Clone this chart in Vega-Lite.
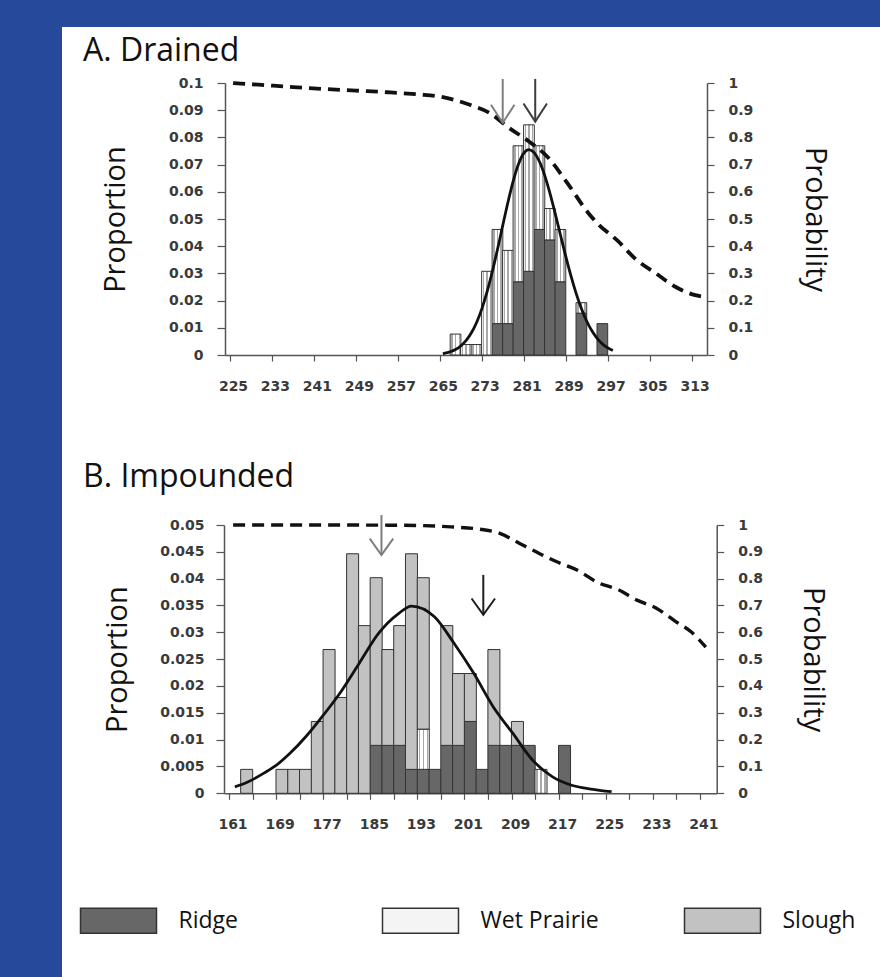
{
  "$schema": "https://vega.github.io/schema/vega-lite/v6.json",
  "background": "#26499b",
  "padding": {"left": 62, "top": 27, "right": 0, "bottom": 0},
  "spacing": 0,
  "config": {
    "view": {"fill": "white", "stroke": null},
    "font": "Open Sans",
    "axis": {
      "labelFont": "DejaVu Sans", "labelFontWeight": "bold", "labelFontSize": 14, "labelColor": "#3a3a3a",
      "tickColor": "#555", "domainColor": "#555", "domainWidth": 1.5, "tickWidth": 1.2,
      "titleFont": "Open Sans", "titleFontWeight": "normal", "titleFontSize": 29, "titleColor": "#111",
      "grid": false, "zindex": 1
    },
    "title": {"font": "Open Sans", "fontWeight": "normal", "fontSize": 32, "color": "#111", "anchor": "start", "frame": "group"}
  },
  "resolve": {"scale": {"x": "independent", "y": "independent", "fill": "independent", "stroke": "independent"}},
  "datasets": {
    "types": [
      {"type": "Ridge", "rank": 1},
      {"type": "Wet Prairie", "rank": 2},
      {"type": "Slough", "rank": 3}
    ],
    "barsA": [
      {"day": 267, "type": "Wet Prairie", "value": 0.00769},
      {"day": 269, "type": "Wet Prairie", "value": 0.00385},
      {"day": 271, "type": "Wet Prairie", "value": 0.00385},
      {"day": 273, "type": "Wet Prairie", "value": 0.03077},
      {"day": 275, "type": "Ridge", "value": 0.01154},
      {"day": 275, "type": "Wet Prairie", "value": 0.03462},
      {"day": 277, "type": "Ridge", "value": 0.01154},
      {"day": 277, "type": "Wet Prairie", "value": 0.02692},
      {"day": 279, "type": "Ridge", "value": 0.02692},
      {"day": 279, "type": "Wet Prairie", "value": 0.05},
      {"day": 281, "type": "Ridge", "value": 0.03077},
      {"day": 281, "type": "Wet Prairie", "value": 0.05385},
      {"day": 283, "type": "Ridge", "value": 0.04615},
      {"day": 283, "type": "Wet Prairie", "value": 0.03077},
      {"day": 285, "type": "Ridge", "value": 0.04231},
      {"day": 285, "type": "Wet Prairie", "value": 0.01154},
      {"day": 287, "type": "Ridge", "value": 0.02692},
      {"day": 287, "type": "Wet Prairie", "value": 0.01923},
      {"day": 291, "type": "Ridge", "value": 0.01538},
      {"day": 291, "type": "Wet Prairie", "value": 0.00385},
      {"day": 295, "type": "Ridge", "value": 0.01154}
    ],
    "curveA": [
      {"day": 264.6, "prop": 0.0004}, {"day": 265, "prop": 0.00066}, {"day": 266, "prop": 0.00118},
      {"day": 267, "prop": 0.00201}, {"day": 268, "prop": 0.00332}, {"day": 269, "prop": 0.00526},
      {"day": 270, "prop": 0.00806}, {"day": 271, "prop": 0.01188}, {"day": 272, "prop": 0.01688},
      {"day": 273, "prop": 0.02313}, {"day": 274, "prop": 0.03051}, {"day": 275, "prop": 0.03879},
      {"day": 276, "prop": 0.04755}, {"day": 277, "prop": 0.05617}, {"day": 278, "prop": 0.06393},
      {"day": 279, "prop": 0.07012}, {"day": 280, "prop": 0.07412}, {"day": 281, "prop": 0.0755},
      {"day": 282, "prop": 0.07438}, {"day": 283, "prop": 0.07114}, {"day": 284, "prop": 0.06605},
      {"day": 285, "prop": 0.05952}, {"day": 286, "prop": 0.05207}, {"day": 287, "prop": 0.04421},
      {"day": 288, "prop": 0.03644}, {"day": 289, "prop": 0.02917}, {"day": 290, "prop": 0.02265},
      {"day": 291, "prop": 0.01708}, {"day": 292, "prop": 0.0125}, {"day": 293, "prop": 0.00888},
      {"day": 294, "prop": 0.00612}, {"day": 295, "prop": 0.0041}, {"day": 296, "prop": 0.00267},
      {"day": 297, "prop": 0.00168}
    ],
    "probA": [
      {"day": 224.6, "prob": 1.0}, {"day": 230, "prob": 0.993}, {"day": 236, "prob": 0.985},
      {"day": 242, "prob": 0.978}, {"day": 248, "prob": 0.972}, {"day": 254, "prob": 0.966},
      {"day": 260, "prob": 0.958}, {"day": 264, "prob": 0.95}, {"day": 267, "prob": 0.937},
      {"day": 270, "prob": 0.918}, {"day": 273.5, "prob": 0.89}, {"day": 277.2, "prob": 0.835},
      {"day": 281, "prob": 0.785}, {"day": 284.7, "prob": 0.725}, {"day": 288.4, "prob": 0.63},
      {"day": 292.2, "prob": 0.525}, {"day": 294, "prob": 0.485}, {"day": 297.75, "prob": 0.423},
      {"day": 301.5, "prob": 0.35}, {"day": 305.2, "prob": 0.3}, {"day": 309, "prob": 0.25},
      {"day": 312.7, "prob": 0.22}, {"day": 314, "prob": 0.215}
    ],
    "arrowsA": [
      {"day": 276, "top": 1.015, "tip": 0.853, "marker": "first"},
      {"day": 282.2, "top": 1.015, "tip": 0.858, "marker": "second"}
    ],
    "barsB": [
      {"day": 163, "type": "Slough", "value": 0.00446},
      {"day": 169, "type": "Slough", "value": 0.00446},
      {"day": 171, "type": "Slough", "value": 0.00446},
      {"day": 173, "type": "Slough", "value": 0.00446},
      {"day": 175, "type": "Slough", "value": 0.01339},
      {"day": 177, "type": "Slough", "value": 0.02679},
      {"day": 179, "type": "Slough", "value": 0.01786},
      {"day": 181, "type": "Slough", "value": 0.04464},
      {"day": 183, "type": "Slough", "value": 0.03125},
      {"day": 185, "type": "Ridge", "value": 0.00893},
      {"day": 185, "type": "Slough", "value": 0.03125},
      {"day": 187, "type": "Ridge", "value": 0.00893},
      {"day": 187, "type": "Slough", "value": 0.01786},
      {"day": 189, "type": "Ridge", "value": 0.00893},
      {"day": 189, "type": "Slough", "value": 0.02232},
      {"day": 191, "type": "Ridge", "value": 0.00446},
      {"day": 191, "type": "Slough", "value": 0.04018},
      {"day": 193, "type": "Ridge", "value": 0.00446},
      {"day": 193, "type": "Wet Prairie", "value": 0.0075},
      {"day": 193, "type": "Slough", "value": 0.02822},
      {"day": 195, "type": "Ridge", "value": 0.00446},
      {"day": 197, "type": "Ridge", "value": 0.00893},
      {"day": 197, "type": "Slough", "value": 0.02232},
      {"day": 199, "type": "Ridge", "value": 0.00893},
      {"day": 199, "type": "Slough", "value": 0.01339},
      {"day": 201, "type": "Ridge", "value": 0.01339},
      {"day": 201, "type": "Slough", "value": 0.00893},
      {"day": 203, "type": "Ridge", "value": 0.00446},
      {"day": 205, "type": "Ridge", "value": 0.00893},
      {"day": 205, "type": "Slough", "value": 0.01786},
      {"day": 207, "type": "Ridge", "value": 0.00893},
      {"day": 209, "type": "Ridge", "value": 0.00893},
      {"day": 209, "type": "Slough", "value": 0.00446},
      {"day": 211, "type": "Ridge", "value": 0.00893},
      {"day": 213, "type": "Wet Prairie", "value": 0.00446},
      {"day": 217, "type": "Ridge", "value": 0.00893}
    ],
    "curveB": [
      {"day": 161, "prop": 0.0012}, {"day": 163, "prop": 0.002}, {"day": 166, "prop": 0.0038},
      {"day": 168, "prop": 0.0052}, {"day": 170.4, "prop": 0.0075}, {"day": 173, "prop": 0.0105},
      {"day": 175.4, "prop": 0.0137}, {"day": 178.8, "prop": 0.0186}, {"day": 182.1, "prop": 0.0242},
      {"day": 185.4, "prop": 0.0298}, {"day": 188.8, "prop": 0.0335}, {"day": 191, "prop": 0.0349},
      {"day": 194.9, "prop": 0.0329}, {"day": 198.2, "prop": 0.028}, {"day": 201.55, "prop": 0.0224},
      {"day": 204.9, "prop": 0.0161}, {"day": 208.2, "prop": 0.0112}, {"day": 211.55, "prop": 0.0062},
      {"day": 214.9, "prop": 0.0031}, {"day": 218.2, "prop": 0.0015}, {"day": 221.5, "prop": 0.0008},
      {"day": 225, "prop": 0.0003}
    ],
    "probB": [
      {"day": 160.7, "prob": 1.0}, {"day": 175, "prob": 1.0}, {"day": 189.3, "prob": 0.999},
      {"day": 197.7, "prob": 0.993}, {"day": 202.7, "prob": 0.984}, {"day": 206, "prob": 0.969},
      {"day": 209.3, "prob": 0.932}, {"day": 212.7, "prob": 0.894}, {"day": 216, "prob": 0.86},
      {"day": 219.3, "prob": 0.83}, {"day": 222.7, "prob": 0.785}, {"day": 226, "prob": 0.76},
      {"day": 229.3, "prob": 0.72}, {"day": 232.6, "prob": 0.69}, {"day": 235.9, "prob": 0.64},
      {"day": 238.6, "prob": 0.6}, {"day": 241, "prob": 0.545}
    ],
    "arrowsB": [
      {"day": 185.9, "top": 1.037, "tip": 0.888, "marker": "first"},
      {"day": 203.2, "top": 0.814, "tip": 0.665, "marker": "second"}
    ]
  },
  "vconcat": [
    {
      "width": 818,
      "height": 413,
      "title": {"text": "A. Drained", "offset": -41, "dx": 21},
      "resolve": {"scale": {"y": "independent"}},
      "layer": [
        {
          "layer": [
            {
              "data": {"name": "barsA"},
              "transform": [
                {"lookup": "type", "from": {"data": {"name": "types"}, "key": "type", "fields": ["rank"]}},
                {"stack": "value", "groupby": ["day"], "sort": [{"field": "rank", "order": "ascending"}], "as": ["v0", "v1"]}
              ],
              "mark": {"type": "bar", "width": 10.7, "stroke": "#333", "strokeWidth": 1},
              "encoding": {
                "x": {
                  "field": "day", "type": "quantitative",
                  "scale": {"domain": [224, 314], "range": [163, 645], "nice": false, "zero": false},
                  "axis": {
                    "orient": "bottom", "offset": -85, "title": null,
                    "values": [224,226,228,230,232,234,236,238,240,242,244,246,248,250,252,254,256,258,260,262,264,266,268,270,272,274,276,278,280,282,284,286,288,290,292,294,296,298,300,302,304,306,308,310,312,314],
                    "labelExpr": "(datum.value - 224) % 8 === 0 ? '' + (datum.value + 1) : ''",
                    "labelOffset": 3, "labelFlush": false, "labelOverlap": false, "labelAngle": 0,
                    "tickSize": 6, "labelPadding": 18
                  }
                },
                "y": {
                  "field": "v0", "type": "quantitative",
                  "scale": {"domain": [0, 0.1], "range": [328, 56], "nice": false, "zero": false},
                  "axis": {
                    "orient": "left", "offset": -163, "title": "Proportion",
                    "values": [0,0.01,0.02,0.03,0.04,0.05,0.06,0.07,0.08,0.09,0.1],
                    "format": "~g", "tickSize": 8, "labelPadding": 14, "titlePadding": 38
                  }
                },
                "y2": {"field": "v1"},
                "fill": {
                  "field": "type", "type": "nominal",
                  "scale": {"domain": ["Ridge", "Wet Prairie", "Slough"], "range": ["#676767", "#f2f2f2", "#c2c2c2"]},
                  "legend": null,
                  "condition": {
                    "test": "datum.type === 'Wet Prairie'",
                    "value": {"gradient": "linear", "x1": 0, "y1": 0, "x2": 1, "y2": 0, "stops": [
                      {"offset": 0, "color": "#ffffff"}, {"offset": 0.12, "color": "#ffffff"},
                      {"offset": 0.12, "color": "#a8a8a8"}, {"offset": 0.24, "color": "#a8a8a8"},
                      {"offset": 0.24, "color": "#ffffff"}, {"offset": 0.45, "color": "#ffffff"},
                      {"offset": 0.45, "color": "#a8a8a8"}, {"offset": 0.57, "color": "#a8a8a8"},
                      {"offset": 0.57, "color": "#ffffff"}, {"offset": 0.78, "color": "#ffffff"},
                      {"offset": 0.78, "color": "#a8a8a8"}, {"offset": 0.9, "color": "#a8a8a8"},
                      {"offset": 0.9, "color": "#ffffff"}, {"offset": 1, "color": "#ffffff"}
                    ]}
                  }
                }
              }
            },
            {
              "data": {"name": "curveA"},
              "mark": {"type": "line", "color": "#111", "strokeWidth": 2.8, "interpolate": "monotone"},
              "encoding": {
                "x": {"field": "day", "type": "quantitative", "scale": {"domain": [224, 314], "range": [163, 645], "nice": false, "zero": false}},
                "y": {"field": "prop", "type": "quantitative", "scale": {"domain": [0, 0.1], "range": [328, 56], "nice": false, "zero": false}}
              }
            }
          ]
        },
        {
          "layer": [
            {
              "data": {"name": "probA"},
              "mark": {"type": "line", "color": "#111", "strokeWidth": 3.8, "strokeDash": [12, 7], "interpolate": "monotone"},
              "encoding": {
                "x": {"field": "day", "type": "quantitative", "scale": {"domain": [224, 314], "range": [163, 645], "nice": false, "zero": false}},
                "y": {
                  "field": "prob", "type": "quantitative",
                  "scale": {"domain": [0, 1], "range": [328, 56], "nice": false, "zero": false},
                  "axis": {
                    "orient": "right", "offset": -173, "title": "Probability",
                    "values": [0,0.1,0.2,0.3,0.4,0.5,0.6,0.7,0.8,0.9,1],
                    "format": "~g", "tickSize": 7, "labelPadding": 14, "titlePadding": 47
                  }
                }
              }
            },
            {
              "data": {"name": "arrowsA"},
              "mark": {"type": "rule", "strokeWidth": 2},
              "encoding": {
                "x": {"field": "day", "type": "quantitative", "scale": {"domain": [224, 314], "range": [163, 645], "nice": false, "zero": false}},
                "y": {"field": "top", "type": "quantitative", "scale": {"domain": [0, 1], "range": [328, 56], "nice": false, "zero": false}},
                "y2": {"field": "tip"},
                "stroke": {"field": "marker", "type": "nominal", "scale": {"domain": ["first", "second"], "range": ["#7e7e7e", "#3c3c3c"]}, "legend": null}
              }
            },
            {
              "data": {"name": "arrowsA"},
              "mark": {"type": "point", "shape": "M-1,-1.55L0,0L1,-1.55", "filled": false, "strokeWidth": 2, "size": 550, "opacity": 1},
              "encoding": {
                "x": {"field": "day", "type": "quantitative", "scale": {"domain": [224, 314], "range": [163, 645], "nice": false, "zero": false}},
                "y": {"field": "tip", "type": "quantitative", "scale": {"domain": [0, 1], "range": [328, 56], "nice": false, "zero": false}},
                "stroke": {"field": "marker", "type": "nominal", "scale": {"domain": ["first", "second"], "range": ["#7e7e7e", "#3c3c3c"]}, "legend": null}
              }
            }
          ]
        }
      ]
    },
    {
      "width": 818,
      "height": 537,
      "title": {"text": "B. Impounded", "offset": -54, "dx": 21},
      "resolve": {"scale": {"y": "independent"}},
      "layer": [
        {
          "layer": [
            {
              "data": {"name": "barsB"},
              "transform": [
                {"lookup": "type", "from": {"data": {"name": "types"}, "key": "type", "fields": ["rank"]}},
                {"stack": "value", "groupby": ["day"], "sort": [{"field": "rank", "order": "ascending"}], "as": ["v0", "v1"]}
              ],
              "mark": {"type": "bar", "width": 12, "stroke": "#333", "strokeWidth": 1},
              "encoding": {
                "x": {
                  "field": "day", "type": "quantitative",
                  "scale": {"domain": [160, 242], "range": [162, 654.7], "nice": false, "zero": false},
                  "axis": {
                    "orient": "bottom", "offset": -183.7, "title": null,
                    "values": [160,162,164,166,168,170,172,174,176,178,180,182,184,186,188,190,192,194,196,198,200,202,204,206,208,210,212,214,216,218,220,222,224,226,228,230,232,234,236,238,240,242],
                    "labelExpr": "(datum.value - 160) % 8 === 0 ? '' + (datum.value + 1) : ''",
                    "labelOffset": 3.5, "labelFlush": false, "labelOverlap": false, "labelAngle": 0,
                    "tickSize": 6, "labelPadding": 18
                  }
                },
                "y": {
                  "field": "v0", "type": "quantitative",
                  "scale": {"domain": [0, 0.05], "range": [353.3, 85], "nice": false, "zero": false},
                  "axis": {
                    "orient": "left", "offset": -162, "title": "Proportion",
                    "values": [0,0.005,0.01,0.015,0.02,0.025,0.03,0.035,0.04,0.045,0.05],
                    "format": "~g", "tickSize": 8, "labelPadding": 12, "titlePadding": 27
                  }
                },
                "y2": {"field": "v1"},
                "fill": {
                  "field": "type", "type": "nominal",
                  "scale": {"domain": ["Ridge", "Wet Prairie", "Slough"], "range": ["#676767", "#f4f4f4", "#c2c2c2"]},
                  "condition": {
                    "test": "datum.type === 'Wet Prairie'",
                    "value": {"gradient": "linear", "x1": 0, "y1": 0, "x2": 1, "y2": 0, "stops": [
                      {"offset": 0, "color": "#ffffff"}, {"offset": 0.12, "color": "#ffffff"},
                      {"offset": 0.12, "color": "#a8a8a8"}, {"offset": 0.24, "color": "#a8a8a8"},
                      {"offset": 0.24, "color": "#ffffff"}, {"offset": 0.45, "color": "#ffffff"},
                      {"offset": 0.45, "color": "#a8a8a8"}, {"offset": 0.57, "color": "#a8a8a8"},
                      {"offset": 0.57, "color": "#ffffff"}, {"offset": 0.78, "color": "#ffffff"},
                      {"offset": 0.78, "color": "#a8a8a8"}, {"offset": 0.9, "color": "#a8a8a8"},
                      {"offset": 0.9, "color": "#ffffff"}, {"offset": 1, "color": "#ffffff"}
                    ]}
                  },
                  "legend": {
                    "orient": "none", "legendX": 17.5, "legendY": 441.5, "direction": "horizontal", "columns": 3,
                    "gridAlign": "all", "columnPadding": 82, "title": null,
                    "symbolType": "M-1,-0.33H1V0.33H-1Z", "symbolSize": 5776,
                    "symbolStrokeColor": "#333", "symbolStrokeWidth": 1.5,
                    "labelFont": "Open Sans", "labelFontSize": 23, "labelColor": "#111", "labelOffset": 21
                  }
                }
              }
            },
            {
              "data": {"name": "curveB"},
              "mark": {"type": "line", "color": "#111", "strokeWidth": 2.8, "interpolate": "monotone"},
              "encoding": {
                "x": {"field": "day", "type": "quantitative", "scale": {"domain": [160, 242], "range": [162, 654.7], "nice": false, "zero": false}},
                "y": {"field": "prop", "type": "quantitative", "scale": {"domain": [0, 0.05], "range": [353.3, 85], "nice": false, "zero": false}}
              }
            }
          ]
        },
        {
          "layer": [
            {
              "data": {"name": "probB"},
              "mark": {"type": "line", "color": "#111", "strokeWidth": 3.4, "strokeDash": [12, 7], "interpolate": "monotone"},
              "encoding": {
                "x": {"field": "day", "type": "quantitative", "scale": {"domain": [160, 242], "range": [162, 654.7], "nice": false, "zero": false}},
                "y": {
                  "field": "prob", "type": "quantitative",
                  "scale": {"domain": [0, 1], "range": [353.3, 85], "nice": false, "zero": false},
                  "axis": {
                    "orient": "right", "offset": -163.3, "title": "Probability",
                    "values": [0,0.1,0.2,0.3,0.4,0.5,0.6,0.7,0.8,0.9,1],
                    "format": "~g", "tickSize": 7, "labelPadding": 14, "titlePadding": 35
                  }
                }
              }
            },
            {
              "data": {"name": "arrowsB"},
              "mark": {"type": "rule", "strokeWidth": 2},
              "encoding": {
                "x": {"field": "day", "type": "quantitative", "scale": {"domain": [160, 242], "range": [162, 654.7], "nice": false, "zero": false}},
                "y": {"field": "top", "type": "quantitative", "scale": {"domain": [0, 1], "range": [353.3, 85], "nice": false, "zero": false}},
                "y2": {"field": "tip"},
                "stroke": {"field": "marker", "type": "nominal", "scale": {"domain": ["first", "second"], "range": ["#7e7e7e", "#1e1e1e"]}, "legend": null}
              }
            },
            {
              "data": {"name": "arrowsB"},
              "mark": {"type": "point", "shape": "M-1,-1.4L0,0L1,-1.4", "filled": false, "strokeWidth": 2, "size": 550, "opacity": 1},
              "encoding": {
                "x": {"field": "day", "type": "quantitative", "scale": {"domain": [160, 242], "range": [162, 654.7], "nice": false, "zero": false}},
                "y": {"field": "tip", "type": "quantitative", "scale": {"domain": [0, 1], "range": [353.3, 85], "nice": false, "zero": false}},
                "stroke": {"field": "marker", "type": "nominal", "scale": {"domain": ["first", "second"], "range": ["#7e7e7e", "#1e1e1e"]}, "legend": null}
              }
            }
          ]
        }
      ]
    }
  ]
}
